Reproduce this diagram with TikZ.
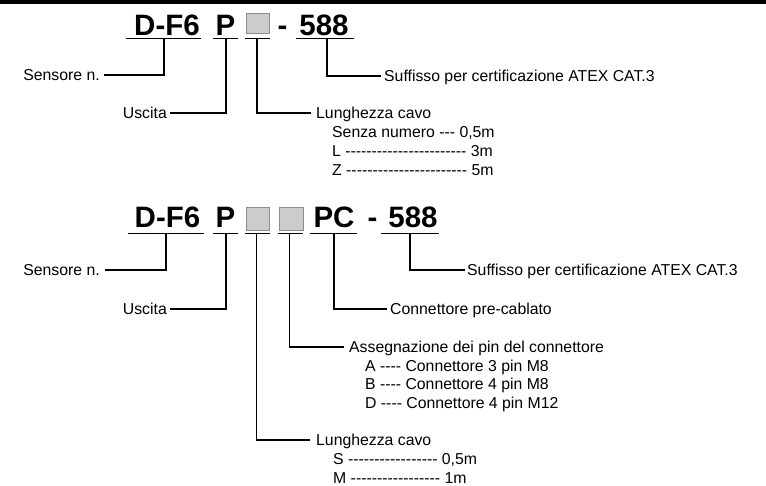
\documentclass[tikz,border=0pt]{standalone}
\usepackage{fontspec}
\newfontfamily\tf{Liberation Sans}[Ligatures=TeXOff]
\begin{document}
\begin{tikzpicture}[x=1pt,y=-1pt,
  big/.style={font=\tf\bfseries\fontsize{29.5}{30}\selectfont, inner sep=0pt, anchor=base},
  lbl/.style={font=\tf\fontsize{15.8}{18}\selectfont, inner sep=0pt},
  ln/.style={line width=1.8pt},
  gbox/.style={draw=black!45, fill=black!20, line width=0.8pt, inner sep=0pt, anchor=north west}]
\useasboundingbox (0,0) rectangle (766,485);
\fill (0,0) rectangle (766,4);

% ---------- top code ----------
\node[big] (a1) at (167,35) {D-F6};
\node[big] (a2) at (225.5,35) {P};
\node[gbox, minimum width=23pt, minimum height=20pt] (a3) at (246,13.3) {};
\node[big] (a4) at (282.5,35) {-};
\node[big] (a5) at (324,35) {588};
\draw[ln] (126,38.5) -- (201,38.5);
\draw[ln] (213,38.5) -- (238,38.5);
\draw[ln] (245,38.5) -- (270,38.5);
\draw[ln] (296,38.5) -- (354,38.5);

\coordinate (u1) at (164,38.5);  \coordinate (e1) at (104,75);
\coordinate (u2) at (226,38.5);  \coordinate (e2) at (170,113);
\coordinate (u3) at (257,38.5);  \coordinate (e3) at (311,113);
\coordinate (u4) at (327,38.5);  \coordinate (e4) at (381,76);
\draw[ln] (u1) |- (e1);
\draw[ln] (u2) |- (e2);
\draw[ln] (u3) |- (e3);
\draw[ln] (u4) |- (e4);

\node[lbl, anchor=base east] (t1) at (100,80.5) {Sensore n.};
\node[lbl, anchor=base east] (t2) at (167,118.5) {Uscita};
\node[lbl, anchor=base west] (t3) at (316,118.5) {Lunghezza cavo};
\node[lbl, anchor=base west] (t4) at (384,81.5) {Suffisso per certificazione ATEX CAT.3};
\node[lbl, anchor=base west] (t5) at (332,137.5) {Senza numero --- 0,5m};
\node[lbl, anchor=base west] (t6) at (332,156) {L ----------------------- 3m};
\node[lbl, anchor=base west] (t7) at (332,175) {Z ----------------------- 5m};

% ---------- bottom code ----------
\node[big] (b1) at (167.5,227.5) {D-F6};
\node[big] (b2) at (225.5,227.5) {P};
\node[gbox, minimum width=23pt, minimum height=23pt] (b3) at (246,207) {};
\node[gbox, minimum width=24pt, minimum height=23pt] (b4) at (279,207) {};
\node[big] (b5) at (334,227.5) {PC};
\node[big] (b6) at (372.5,227.5) {-};
\node[big] (b7) at (413,227.5) {588};
\draw[ln] (128,233.5) -- (204,233.5);
\draw[ln] (213,233.5) -- (238,233.5);
\draw[ln] (245,233.5) -- (270,233.5);
\draw[ln] (278,233.5) -- (303,233.5);
\draw[ln] (310,233.5) -- (357,233.5);
\draw[ln] (381,233.5) -- (439,233.5);

\coordinate (v1) at (166,233.5);   \coordinate (f1) at (105,270);
\coordinate (v2) at (226,233.5);   \coordinate (f2) at (170,309);
\coordinate (v3) at (256.5,233.5); \coordinate (f3) at (310,440);
\coordinate (v4) at (289.5,233.5); \coordinate (f4) at (344,347);
\coordinate (v5) at (334,233.5);   \coordinate (f5) at (387,309);
\coordinate (v6) at (410,233.5);   \coordinate (f6) at (465,270);
\draw[ln] (v1) |- (f1);
\draw[ln] (v2) |- (f2);
\draw[ln] (v3) |- (f3);
\draw[ln] (v4) |- (f4);
\draw[ln] (v5) |- (f5);
\draw[ln] (v6) |- (f6);

\node[lbl, anchor=base east] (s1) at (100,275.5) {Sensore n.};
\node[lbl, anchor=base east] (s2) at (167,314.5) {Uscita};
\node[lbl, anchor=base west] (s3) at (467,275.5) {Suffisso per certificazione ATEX CAT.3};
\node[lbl, anchor=base west] (s4) at (390,314.5) {Connettore pre-cablato};
\node[lbl, anchor=base west] (s5) at (349,352.5) {Assegnazione dei pin del connettore};
\node[lbl, anchor=base west] (s6) at (365,371) {A ---- Connettore 3 pin M8};
\node[lbl, anchor=base west] (s7) at (365,389.5) {B ---- Connettore 4 pin M8};
\node[lbl, anchor=base west] (s8) at (365,408) {D ---- Connettore 4 pin M12};
\node[lbl, anchor=base west] (s9) at (316,445.5) {Lunghezza cavo};
\node[lbl, anchor=base west] (s10) at (333,464.5) {S ----------------- 0,5m};
\node[lbl, anchor=base west] (s11) at (333,483) {M ----------------- 1m};
\end{tikzpicture}
\end{document}
